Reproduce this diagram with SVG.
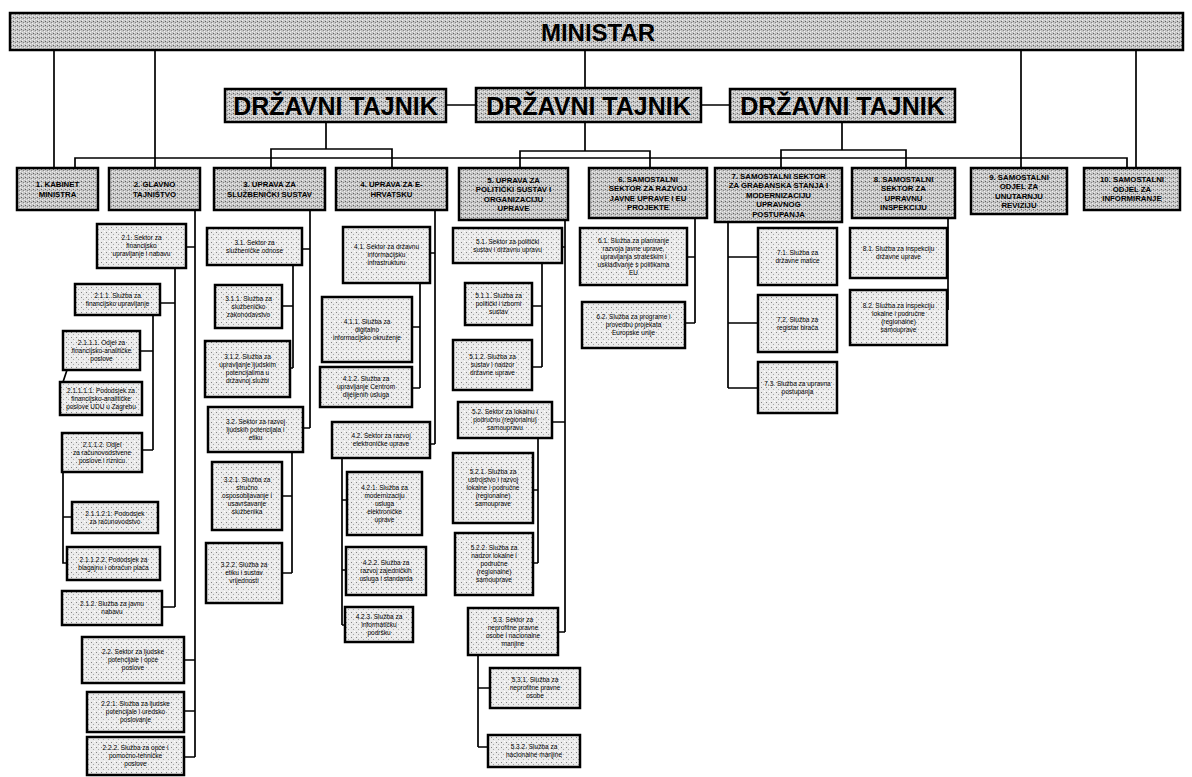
<svg xmlns="http://www.w3.org/2000/svg" width="1192" height="777" viewBox="0 0 1192 777">
<defs>
<pattern id="pd" width="4" height="4" patternUnits="userSpaceOnUse"><rect width="4" height="4" fill="#c6c6c6"/><rect x="1" y="1" width="1" height="1" fill="#5f5f5f"/><rect x="3" y="2" width="1" height="1" fill="#858585"/><rect x="0" y="3" width="1" height="1" fill="#f2f2f2"/><rect x="2" y="0" width="1" height="1" fill="#ececec"/></pattern>
<pattern id="pl" width="5" height="5" patternUnits="userSpaceOnUse"><rect width="5" height="5" fill="#ebebeb"/><rect x="1" y="2" width="1" height="1" fill="#858585"/><rect x="3" y="4" width="1" height="1" fill="#a8a8a8"/><rect x="4" y="1" width="1" height="1" fill="#ffffff"/></pattern>
</defs>
<style>
.top{fill:url(#pd);stroke:#000;stroke-width:2.5}
.l1{fill:url(#pd);stroke:#000;stroke-width:2.5}
.sub{fill:url(#pl);stroke:#000;stroke-width:2.5}
.c{fill:none;stroke:#000;stroke-width:1.7}
.big{font-family:"Liberation Sans",Arial,sans-serif;font-weight:bold;fill:#000;text-anchor:middle}
.t1{font-family:"Liberation Sans",Arial,sans-serif;font-weight:bold;font-size:7.8px;fill:#000;text-anchor:middle}
.t2{font-family:"Liberation Sans",Arial,sans-serif;font-size:6.5px;fill:#000;text-anchor:middle}
</style>
<rect width="1192" height="777" fill="#fff"/>

<g id="connectors">
<path class="c" d="M54 50V168M155 50V168M585 50V88M1021 50V168M1136 50V168"/>
<path class="c" d="M446 105H476M701 105H730"/>
<path class="c" d="M326 122V149M271 168V149H392V168"/>
<path class="c" d="M585 122V151M520 168V151H650V168"/>
<path class="c" d="M842 122V150M781 168V150H906V168"/>
<path class="c" d="M75 168V158H1127V168"/>
<path class="c" d="M195 210V757M186 247H195M175 268V607M160 303H175M153 315V450M140 351H153M142 450H153M67 370L63 382M63 472V563H67M63 517H72M162 607H175M184 660H195M184 711H195M184 757H195"/>
<path class="c" d="M310 210V428M302 249H310M293 265V368M282 306H293M290 368H293M303 428H310M292 452V573M282 496H292M282 573H292"/>
<path class="c" d="M435 210V444M430 253H435M420 283V388M412 327H420M412 388H420M430 444H435M342 458V625M342 500H347M342 570H346M342 625H345"/>
<path class="c" d="M565 220V632M562 247H565M542 263V367M532 306H542M532 367H542M552 422H565M538 438V563M533 490H538M533 563H538M558 632H565M478 655V747M478 688H490M478 747H488"/>
<path class="c" d="M695 218V323M687 257H695M685 323H695"/>
<path class="c" d="M728 222V388M728 257H758M728 323H758M728 388H758"/>
<path class="c" d="M948 218V310"/>
</g>

<g id="ministar"><rect class="top" x="10" y="13" width="1173" height="37"/><text class="big" x="598" y="41" font-size="24">MINISTAR</text></g>
<g id="dt-left"><rect class="top" x="225" y="89" width="221" height="33"/><text class="big" x="335.5" y="115" font-size="25">DRŽAVNI TAJNIK</text></g>
<g id="dt-mid"><rect class="top" x="476" y="88" width="225" height="34"/><text class="big" x="588.5" y="115" font-size="25">DRŽAVNI TAJNIK</text></g>
<g id="dt-right"><rect class="top" x="730" y="89" width="225" height="33"/><text class="big" x="842.5" y="115" font-size="25">DRŽAVNI TAJNIK</text></g>

<g id="n1"><rect class="l1" x="17" y="168" width="81" height="42"/><text class="t1" y="187"><tspan x="57.5">1. KABINET</tspan><tspan x="57.5" dy="9.5">MINISTRA</tspan></text></g>
<g id="n2"><rect class="l1" x="109" y="168" width="91" height="42"/><text class="t1" y="187"><tspan x="154.5">2. GLAVNO</tspan><tspan x="154.5" dy="9.5">TAJNIŠTVO</tspan></text></g>
<g id="n3"><rect class="l1" x="214" y="168" width="111" height="42"/><text class="t1" y="187"><tspan x="269.5">3. UPRAVA ZA</tspan><tspan x="269.5" dy="9.5">SLUŽBENIČKI SUSTAV</tspan></text></g>
<g id="n4"><rect class="l1" x="336" y="168" width="111" height="42"/><text class="t1" y="187"><tspan x="391.5">4. UPRAVA ZA E-</tspan><tspan x="391.5" dy="9.5">HRVATSKU</tspan></text></g>
<g id="n5"><rect class="l1" x="459" y="168" width="109" height="52"/><text class="t1" y="182.5"><tspan x="513.5">5. UPRAVA ZA</tspan><tspan x="513.5" dy="9.5">POLITIČKI SUSTAV I</tspan><tspan x="513.5" dy="9.5">ORGANIZACIJU</tspan><tspan x="513.5" dy="9.5">UPRAVE</tspan></text></g>
<g id="n6"><rect class="l1" x="589" y="168" width="118" height="50"/><text class="t1" y="181.5"><tspan x="648">6. SAMOSTALNI</tspan><tspan x="648" dy="9.5">SEKTOR ZA RAZVOJ</tspan><tspan x="648" dy="9.5">JAVNE UPRAVE I EU</tspan><tspan x="648" dy="9.5">PROJEKTE</tspan></text></g>
<g id="n7"><rect class="l1" x="715" y="168" width="127" height="54"/><text class="t1" y="178.7"><tspan x="778.5">7. SAMOSTALNI SEKTOR</tspan><tspan x="778.5" dy="9.5">ZA GRAĐANSKA STANJA I</tspan><tspan x="778.5" dy="9.5">MODERNIZACIJU</tspan><tspan x="778.5" dy="9.5">UPRAVNOG</tspan><tspan x="778.5" dy="9.5">POSTUPANJA</tspan></text></g>
<g id="n8"><rect class="l1" x="852" y="168" width="103" height="50"/><text class="t1" y="181.5"><tspan x="903.5">8. SAMOSTALNI</tspan><tspan x="903.5" dy="9.5">SEKTOR ZA</tspan><tspan x="903.5" dy="9.5">UPRAVNU</tspan><tspan x="903.5" dy="9.5">INSPEKCIJU</tspan></text></g>
<g id="n9"><rect class="l1" x="971" y="168" width="96" height="46"/><text class="t1" y="179.5"><tspan x="1019">9. SAMOSTALNI</tspan><tspan x="1019" dy="9.5">ODJEL ZA</tspan><tspan x="1019" dy="9.5">UNUTARNJU</tspan><tspan x="1019" dy="9.5">REVIZIJU</tspan></text></g>
<g id="n10"><rect class="l1" x="1084" y="168" width="96" height="42"/><text class="t1" y="182.2"><tspan x="1132">10. SAMOSTALNI</tspan><tspan x="1132" dy="9.5">ODJEL ZA</tspan><tspan x="1132" dy="9.5">INFORMIRANJE</tspan></text></g>

<g id="n2-1"><rect class="sub" x="97" y="224" width="89" height="44"/><text class="t2" y="240.3"><tspan x="141.5">2.1. Sektor za</tspan><tspan x="141.5" dy="8">financijsko</tspan><tspan x="141.5" dy="8">upravljanje i nabavu</tspan></text></g>
<g id="n2-1-1"><rect class="sub" x="75" y="284" width="85" height="31"/><text class="t2" y="297.8"><tspan x="117.5">2.1.1. Služba za</tspan><tspan x="117.5" dy="8">financijsko upravljanje</tspan></text></g>
<g id="n2-1-1-1"><rect class="sub" x="63" y="331" width="77" height="39"/><text class="t2" y="344.8"><tspan x="101.5">2.1.1.1. Odjel za</tspan><tspan x="101.5" dy="8">financijsko-analitičke</tspan><tspan x="101.5" dy="8">poslove</tspan></text></g>
<g id="n2-1-1-1-1"><rect class="sub" x="60" y="382" width="82" height="33"/><text class="t2" y="392.8"><tspan x="101">2.1.1.1.1. Pododsjek za</tspan><tspan x="101" dy="8">financijsko-analitičke</tspan><tspan x="101" dy="8">poslove UDU u Zagrebu</tspan></text></g>
<g id="n2-1-1-2"><rect class="sub" x="62" y="433" width="80" height="39"/><text class="t2" y="446.8"><tspan x="102">2.1.1.2. Odjel</tspan><tspan x="102" dy="8">za računovodstvene</tspan><tspan x="102" dy="8">poslove i riznicu</tspan></text></g>
<g id="n2-1-1-2-1"><rect class="sub" x="72" y="502" width="86" height="31"/><text class="t2" y="515.8"><tspan x="115">2.1.1.2.1. Pododsjek</tspan><tspan x="115" dy="8">za računovodstvo</tspan></text></g>
<g id="n2-1-1-2-2"><rect class="sub" x="67" y="547" width="93" height="33"/><text class="t2" y="561.8"><tspan x="113.5">2.1.1.2.2. Pododsjek za</tspan><tspan x="113.5" dy="8">blagajnu i obračun plaća</tspan></text></g>
<g id="n2-1-2"><rect class="sub" x="62" y="591" width="100" height="34"/><text class="t2" y="606.3"><tspan x="112">2.1.2. Služba za javnu</tspan><tspan x="112" dy="8">nabavu</tspan></text></g>
<g id="n2-2"><rect class="sub" x="82" y="637" width="102" height="46"/><text class="t2" y="654.3"><tspan x="133">2.2. Sektor za ljudske</tspan><tspan x="133" dy="8">potencijale i opće</tspan><tspan x="133" dy="8">poslove</tspan></text></g>
<g id="n2-2-1"><rect class="sub" x="87" y="692" width="97" height="40"/><text class="t2" y="706.3"><tspan x="135.5">2.2.1. Služba za ljudske</tspan><tspan x="135.5" dy="8">potencijale i uredsko</tspan><tspan x="135.5" dy="8">poslovanje</tspan></text></g>
<g id="n2-2-2"><rect class="sub" x="87" y="737" width="97" height="38"/><text class="t2" y="750.3"><tspan x="135.5">2.2.2. Služba za opće i</tspan><tspan x="135.5" dy="8">pomoćno-tehničke</tspan><tspan x="135.5" dy="8">poslove</tspan></text></g>

<g id="n3-1"><rect class="sub" x="207" y="228" width="95" height="37"/><text class="t2" y="244.8"><tspan x="254.5">3.1. Sektor za</tspan><tspan x="254.5" dy="8">službeničke odnose</tspan></text></g>
<g id="n3-1-1"><rect class="sub" x="215" y="285" width="67" height="43"/><text class="t2" y="300.8"><tspan x="248.5">3.1.1. Služba za</tspan><tspan x="248.5" dy="8">službeničko</tspan><tspan x="248.5" dy="8">zakonodavstvo</tspan></text></g>
<g id="n3-1-2"><rect class="sub" x="205" y="341" width="85" height="56"/><text class="t2" y="359.3"><tspan x="247.5">3.1.2. Služba za</tspan><tspan x="247.5" dy="8">upravljanje ljudskim</tspan><tspan x="247.5" dy="8">potencijalima u</tspan><tspan x="247.5" dy="8">državnoj službi</tspan></text></g>
<g id="n3-2"><rect class="sub" x="208" y="407" width="95" height="45"/><text class="t2" y="423.8"><tspan x="255.5">3.2. Sektor za razvoj</tspan><tspan x="255.5" dy="8">ljudskih potencijala i</tspan><tspan x="255.5" dy="8">etiku</tspan></text></g>
<g id="n3-2-1"><rect class="sub" x="212" y="462" width="70" height="68"/><text class="t2" y="482.3"><tspan x="247">3.2.1. Služba za</tspan><tspan x="247" dy="8">stručno</tspan><tspan x="247" dy="8">osposobljavanje i</tspan><tspan x="247" dy="8">usavršavanje</tspan><tspan x="247" dy="8">službenika</tspan></text></g>
<g id="n3-2-2"><rect class="sub" x="206" y="543" width="76" height="60"/><text class="t2" y="567.3"><tspan x="244">3.2.2. Služba za</tspan><tspan x="244" dy="8">etiku i sustav</tspan><tspan x="244" dy="8">vrijednosti</tspan></text></g>

<g id="n4-1"><rect class="sub" x="343" y="227" width="87" height="56"/><text class="t2" y="249.3"><tspan x="386.5">4.1. Sektor za državnu</tspan><tspan x="386.5" dy="8">informacijsku</tspan><tspan x="386.5" dy="8">infrastrukturu</tspan></text></g>
<g id="n4-1-1"><rect class="sub" x="322" y="297" width="90" height="65"/><text class="t2" y="323.8"><tspan x="367">4.1.1. Služba za</tspan><tspan x="367" dy="8">digitalno</tspan><tspan x="367" dy="8">informacijsko okruženje</tspan></text></g>
<g id="n4-1-2"><rect class="sub" x="320" y="367" width="92" height="40"/><text class="t2" y="381.3"><tspan x="366">4.1.2. Služba za</tspan><tspan x="366" dy="8">upravljanje Centrom</tspan><tspan x="366" dy="8">dijeljenih usluga</tspan></text></g>
<g id="n4-2"><rect class="sub" x="332" y="422" width="98" height="36"/><text class="t2" y="438.3"><tspan x="381">4.2. Sektor za razvoj</tspan><tspan x="381" dy="8">elektroničke uprave</tspan></text></g>
<g id="n4-2-1"><rect class="sub" x="347" y="472" width="75" height="63"/><text class="t2" y="489.8"><tspan x="384.5">4.2.1. Služba za</tspan><tspan x="384.5" dy="8">modernizaciju</tspan><tspan x="384.5" dy="8">usluga</tspan><tspan x="384.5" dy="8">elektroničke</tspan><tspan x="384.5" dy="8">uprave</tspan></text></g>
<g id="n4-2-2"><rect class="sub" x="346" y="547" width="80" height="48"/><text class="t2" y="565.3"><tspan x="386">4.2.2. Služba za</tspan><tspan x="386" dy="8">razvoj zajedničkih</tspan><tspan x="386" dy="8">usluga i standarda</tspan></text></g>
<g id="n4-2-3"><rect class="sub" x="345" y="607" width="68" height="35"/><text class="t2" y="618.8"><tspan x="379">4.2.3. Služba za</tspan><tspan x="379" dy="8">informatičku</tspan><tspan x="379" dy="8">podršku</tspan></text></g>

<g id="n5-1"><rect class="sub" x="453" y="228" width="109" height="35"/><text class="t2" y="243.8"><tspan x="507.5">5.1. Sektor za politički</tspan><tspan x="507.5" dy="8">sustav i državnu upravu</tspan></text></g>
<g id="n5-1-1"><rect class="sub" x="465" y="283" width="67" height="42"/><text class="t2" y="298.3"><tspan x="498.5">5.1.1. Služba za</tspan><tspan x="498.5" dy="8">politički i izborni</tspan><tspan x="498.5" dy="8">sustav</tspan></text></g>
<g id="n5-1-2"><rect class="sub" x="453" y="340" width="79" height="50"/><text class="t2" y="359.3"><tspan x="492.5">5.1.2. Služba za</tspan><tspan x="492.5" dy="8">sustav i nadzor</tspan><tspan x="492.5" dy="8">državne uprave</tspan></text></g>
<g id="n5-2"><rect class="sub" x="458" y="402" width="94" height="36"/><text class="t2" y="414.3"><tspan x="505">5.2. Sektor za lokalnu i</tspan><tspan x="505" dy="8">područnu (regionalnu)</tspan><tspan x="505" dy="8">samoupravu</tspan></text></g>
<g id="n5-2-1"><rect class="sub" x="453" y="453" width="80" height="70"/><text class="t2" y="474.3"><tspan x="493">5.2.1. Služba za</tspan><tspan x="493" dy="8">ustrojstvo i razvoj</tspan><tspan x="493" dy="8">lokalne i područne</tspan><tspan x="493" dy="8">(regionalne)</tspan><tspan x="493" dy="8">samouprave</tspan></text></g>
<g id="n5-2-2"><rect class="sub" x="455" y="533" width="78" height="62"/><text class="t2" y="550.3"><tspan x="494">5.2.2. Služba za</tspan><tspan x="494" dy="8">nadzor lokalne i</tspan><tspan x="494" dy="8">područne</tspan><tspan x="494" dy="8">(regionalne)</tspan><tspan x="494" dy="8">samouprave</tspan></text></g>
<g id="n5-3"><rect class="sub" x="468" y="608" width="90" height="47"/><text class="t2" y="621.8"><tspan x="513">5.3. Sektor za</tspan><tspan x="513" dy="8">neprofitne pravne</tspan><tspan x="513" dy="8">osobe i nacionalne</tspan><tspan x="513" dy="8">manjine</tspan></text></g>
<g id="n5-3-1"><rect class="sub" x="490" y="668" width="90" height="40"/><text class="t2" y="682.3"><tspan x="535">5.3.1. Služba za</tspan><tspan x="535" dy="8">neprofitne pravne</tspan><tspan x="535" dy="8">osobe</tspan></text></g>
<g id="n5-3-2"><rect class="sub" x="488" y="735" width="92" height="32"/><text class="t2" y="749.3"><tspan x="534">5.3.2. Služba za</tspan><tspan x="534" dy="8">nacionalne manjine</tspan></text></g>

<g id="n6-1"><rect class="sub" x="580" y="228" width="107" height="57"/><text class="t2" y="242.8"><tspan x="633.5">6.1. Služba za planiranje</tspan><tspan x="633.5" dy="8">razvoja javne uprave,</tspan><tspan x="633.5" dy="8">upravljanja strateškim i</tspan><tspan x="633.5" dy="8">usklađivanje s politikama</tspan><tspan x="633.5" dy="8">EU</tspan></text></g>
<g id="n6-2"><rect class="sub" x="582" y="302" width="103" height="46"/><text class="t2" y="319.3"><tspan x="633.5">6.2. Služba za programe i</tspan><tspan x="633.5" dy="8">provedbu projekata</tspan><tspan x="633.5" dy="8">Europske unije</tspan></text></g>

<g id="n7-1"><rect class="sub" x="758" y="228" width="79" height="57"/><text class="t2" y="254.8"><tspan x="797.5">7.1. Služba za</tspan><tspan x="797.5" dy="8">državne matice</tspan></text></g>
<g id="n7-2"><rect class="sub" x="758" y="295" width="79" height="57"/><text class="t2" y="321.8"><tspan x="797.5">7.2. Služba za</tspan><tspan x="797.5" dy="8">registar birača</tspan></text></g>
<g id="n7-3"><rect class="sub" x="758" y="362" width="79" height="51"/><text class="t2" y="385.8"><tspan x="797.5">7.3. Služba za upravna</tspan><tspan x="797.5" dy="8">postupanja</tspan></text></g>

<g id="n8-1"><rect class="sub" x="850" y="228" width="97" height="50"/><text class="t2" y="251.3"><tspan x="898.5">8.1. Služba za inspekciju</tspan><tspan x="898.5" dy="8">državne uprave</tspan></text></g>
<g id="n8-2"><rect class="sub" x="850" y="290" width="97" height="55"/><text class="t2" y="307.8"><tspan x="898.5">8.2. Služba za inspekciju</tspan><tspan x="898.5" dy="8">lokalne i područne</tspan><tspan x="898.5" dy="8">(regionalne)</tspan><tspan x="898.5" dy="8">samouprave</tspan></text></g>
</svg>
